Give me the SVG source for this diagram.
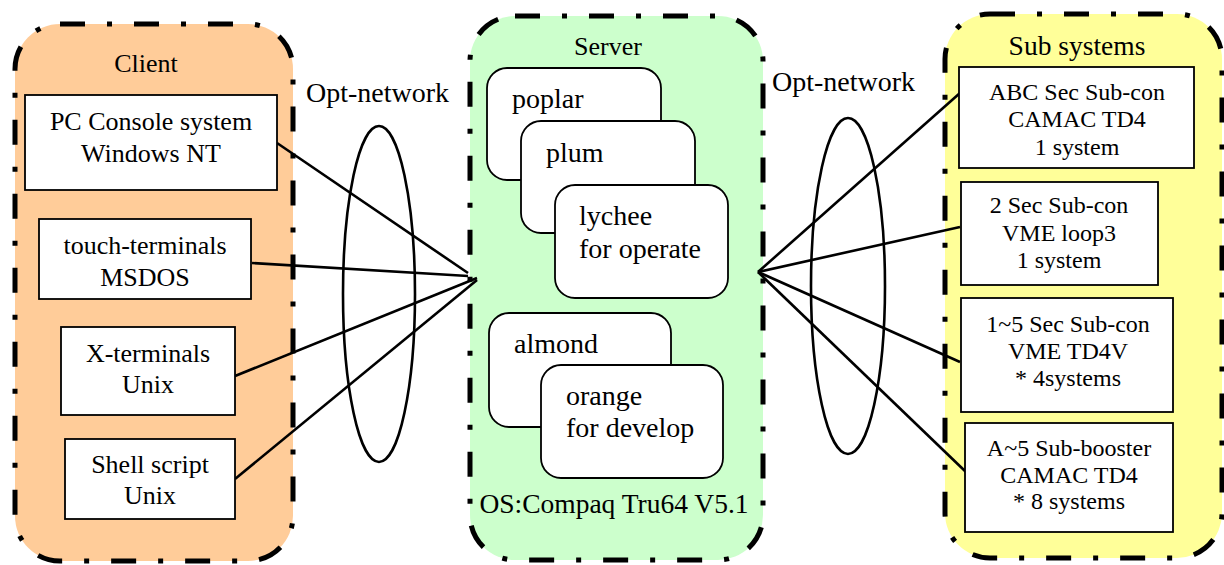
<svg xmlns="http://www.w3.org/2000/svg" width="1224" height="565" viewBox="0 0 1224 565">
<style>
text{font-family:"Liberation Serif","Times New Roman",serif;fill:#000}
.panel{stroke:#000;stroke-width:5;stroke-dasharray:25 22 5 22}
.box{fill:#fff;stroke:#000;stroke-width:1.8}
.rbox{fill:#fff;stroke:#000;stroke-width:1.8}
.t26{font-size:26px;text-anchor:middle}
.t24{font-size:24px;text-anchor:middle}
.t28{font-size:28px}
.title{font-size:26px;text-anchor:middle}
.conn line,.conn ellipse{stroke:#000;stroke-width:2.6;fill:none}
</style>
<rect width="1224" height="565" fill="#fff"/>
<g id="client">
<rect class="panel" x="15" y="24" width="278" height="537" rx="45" fill="#FFCC99"/>
<text class="title" x="146" y="72">Client</text>
</g>
<g id="server">
<rect class="panel" x="470" y="16" width="293" height="544" rx="45" fill="#CCFFCC"/>
<text class="title" x="608" y="55">Server</text>
<text x="614" y="513" style="font-size:27.5px;text-anchor:middle">OS:Compaq Tru64 V5.1</text>
</g>
<g id="subsystems">
<rect class="panel" x="945" y="14" width="277" height="544" rx="45" fill="#FFFF99"/>
<text x="1077" y="55" style="font-size:27.5px;text-anchor:middle">Sub systems</text>
</g>
<g class="conn" id="connectors">
<ellipse cx="379" cy="294" rx="36" ry="168"/>
<ellipse cx="848" cy="286" rx="37" ry="168"/>
<line x1="277" y1="143" x2="468" y2="273"/>
<line x1="252" y1="263" x2="468" y2="276"/>
<line x1="235" y1="376" x2="477" y2="278"/>
<line x1="235" y1="479" x2="477" y2="280"/>
<line x1="758" y1="272" x2="960" y2="93"/>
<line x1="758" y1="272" x2="960" y2="227"/>
<line x1="758" y1="272" x2="960" y2="362"/>
<line x1="758" y1="272" x2="966" y2="472"/>
</g>
<g id="optnet-left"><text class="t28" x="306" y="102">Opt-network</text></g>
<g id="optnet-right"><text class="t28" x="772" y="91">Opt-network</text></g>
<g id="pc-console">
<rect class="box" x="25" y="95" width="252" height="95"/>
<text class="t26" x="151" y="130">PC Console system</text>
<text class="t26" x="151" y="162">Windows NT</text>
</g>
<g id="touch-terminals">
<rect class="box" x="39" y="219" width="212" height="80"/>
<text class="t26" x="145" y="254">touch-terminals</text>
<text class="t26" x="145" y="286">MSDOS</text>
</g>
<g id="x-terminals">
<rect class="box" x="61" y="327" width="174" height="88"/>
<text class="t26" x="148" y="362">X-terminals</text>
<text class="t26" x="148" y="393">Unix</text>
</g>
<g id="shell-script">
<rect class="box" x="65" y="439" width="170" height="80"/>
<text class="t26" x="150" y="473">Shell script</text>
<text class="t26" x="150" y="504">Unix</text>
</g>
<g id="poplar">
<rect class="rbox" x="487" y="68" width="174" height="112" rx="20"/>
<text class="t28" x="512" y="108">poplar</text>
</g>
<g id="plum">
<rect class="rbox" x="521" y="121" width="174" height="112" rx="20"/>
<text class="t28" x="546" y="162">plum</text>
</g>
<g id="lychee">
<rect class="rbox" x="555" y="185" width="173" height="113" rx="20"/>
<text class="t28" x="579" y="225">lychee</text>
<text class="t28" x="579" y="258">for operate</text>
</g>
<g id="almond">
<rect class="rbox" x="489" y="313" width="182" height="114" rx="20"/>
<text class="t28" x="514" y="353">almond</text>
</g>
<g id="orange">
<rect class="rbox" x="541" y="365" width="182" height="113" rx="20"/>
<text class="t28" x="566" y="405">orange</text>
<text class="t28" x="566" y="437">for develop</text>
</g>
<g id="abc-sec">
<rect class="box" x="959" y="67" width="235" height="101"/>
<text class="t24" x="1077" y="100">ABC Sec Sub-con</text>
<text class="t24" x="1077" y="127">CAMAC TD4</text>
<text class="t24" x="1077" y="155">1 system</text>
</g>
<g id="sec2">
<rect class="box" x="961" y="182" width="197" height="103"/>
<text class="t24" x="1059" y="213">2 Sec Sub-con</text>
<text class="t24" x="1059" y="241">VME loop3</text>
<text class="t24" x="1059" y="268">1 system</text>
</g>
<g id="sec15">
<rect class="box" x="961" y="298" width="212" height="114"/>
<text class="t24" x="1068" y="332">1~5 Sec Sub-con</text>
<text class="t24" x="1068" y="359">VME TD4V</text>
<text class="t24" x="1068" y="386">* 4systems</text>
</g>
<g id="booster">
<rect class="box" x="965" y="423" width="208" height="109"/>
<text class="t24" x="1069" y="456">A~5 Sub-booster</text>
<text class="t24" x="1069" y="483">CAMAC TD4</text>
<text class="t24" x="1069" y="509">* 8 systems</text>
</g>
</svg>
